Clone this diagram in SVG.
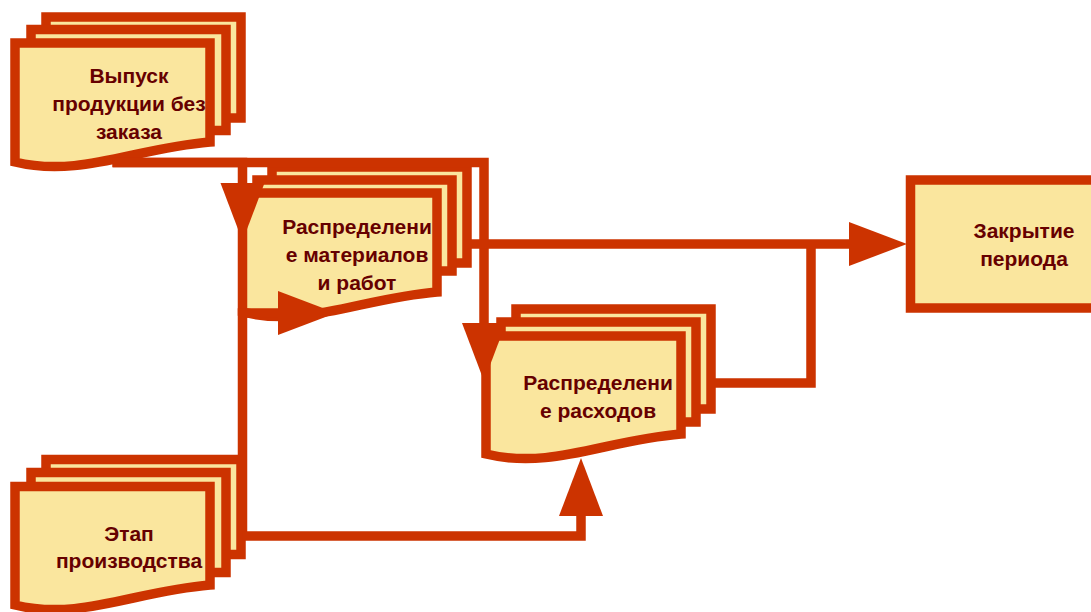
<svg xmlns="http://www.w3.org/2000/svg" width="1091" height="612" viewBox="0 0 1091 612">
<style>
.pg{fill:#FAE69E;stroke:#CC3300;stroke-width:9.5;stroke-linejoin:miter}
.t{font-family:"Liberation Sans",Arial,sans-serif;font-weight:bold;font-size:21px;fill:#660000;text-anchor:middle}
.c{fill:none;stroke:#CC3300;stroke-width:9.5;stroke-linejoin:miter}
</style>
<defs>
<marker id="ah" markerUnits="userSpaceOnUse" markerWidth="60" markerHeight="46" viewBox="0 0 60 46" refX="21" refY="23" orient="auto">
<path d="M1,1 L59,23 L1,45 Z" fill="#CC3300"/>
</marker>
</defs>
<rect width="1091" height="612" fill="#FFFFFF"/>
<g id="node-vypusk">
<rect class="pg" x="46" y="17" width="195" height="101"/>
<rect class="pg" x="31" y="29.5" width="195" height="101"/>
<path class="pg" d="M15,43 H210 V142 C135,148 80,178 15,162 Z"/>
<text class="t" x="129" y="83">Выпуск</text>
<text class="t" x="129" y="111">продукции без</text>
<text class="t" x="129" y="139">заказа</text>
</g>
<g id="node-raspr-mat">
<rect class="pg" x="272" y="167" width="195" height="96"/>
<rect class="pg" x="257" y="180" width="195" height="91"/>
<path class="pg" d="M242.5,193 H437 V292 C362.5,298 307.5,328 242.5,312 Z"/>
<text class="t" x="357" y="234">Распределени</text>
<text class="t" x="357" y="262">е материалов</text>
<text class="t" x="357" y="290">и работ</text>
</g>
<g id="node-raspr-rash">
<rect class="pg" x="516" y="309" width="195" height="100"/>
<rect class="pg" x="501" y="322" width="195" height="100"/>
<path class="pg" d="M486,336 H681 V434 C606,440 551,470 486,454 Z"/>
<text class="t" x="598" y="390">Распределени</text>
<text class="t" x="598" y="418">е расходов</text>
</g>
<g id="node-etap">
<rect class="pg" x="46" y="459.5" width="195" height="95"/>
<rect class="pg" x="31" y="472.5" width="195" height="100"/>
<path class="pg" d="M15,486.5 H210 V585 C135,591 80,621 15,605 Z"/>
<text class="t" x="129" y="541">Этап</text>
<text class="t" x="129" y="568">производства</text>
</g>
<g id="node-zakrytie">
<rect class="pg" x="910.5" y="180" width="230" height="128"/>
<text class="t" x="1024" y="238">Закрытие</text>
<text class="t" x="1024" y="266">периода</text>
</g>
<g id="connectors">
<path class="c" d="M112.5,162.5 H242.5 V203" marker-end="url(#ah)"/>
<path class="c" d="M112.5,162.5 H484 V343" marker-end="url(#ah)"/>
<path class="c" d="M242.5,536 V313 H298" marker-end="url(#ah)"/>
<path class="c" d="M242.5,536 H581 V496" marker-end="url(#ah)"/>
<path class="c" d="M467,244 H869" marker-end="url(#ah)"/>
<path class="c" d="M711,383 H811 V244"/>
</g>
</svg>
